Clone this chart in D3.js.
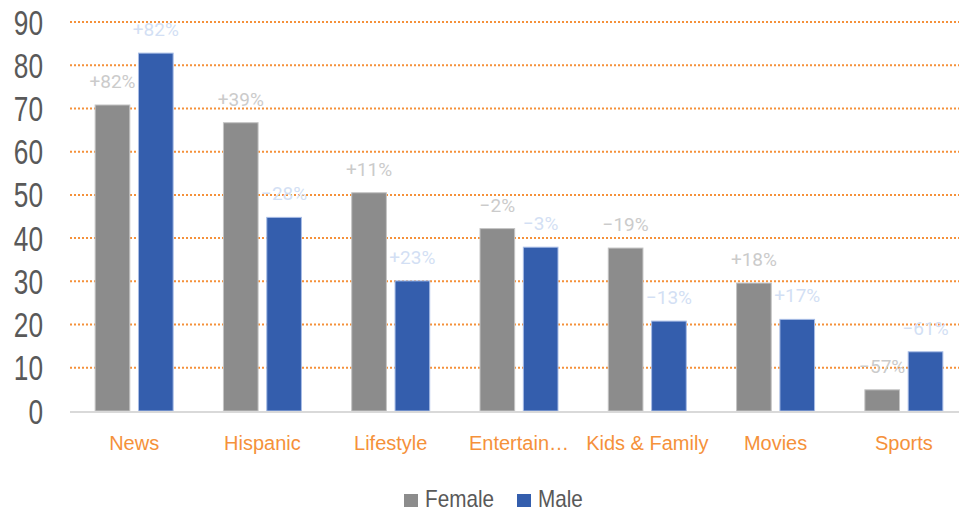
<!DOCTYPE html>
<html>
<head>
<meta charset="utf-8">
<script src="https://cdn.jsdelivr.net/npm/d3@7"></script>
<style>
  body { margin: 0; background: #fff; }
</style>
</head>
<body>
<div id="chart"></div>
<script>
var categories = ["News", "Hispanic", "Lifestyle", "Entertain…", "Kids & Family", "Movies", "Sports"];
var female = [70.8, 66.7, 50.5, 42.2, 37.7, 29.6, 4.9];
var male = [82.8, 44.8, 30.1, 37.9, 20.8, 21.2, 13.7];
var femaleLabels = ["+82%", "+39%", "+11%", "−2%", "−19%", "+18%", "−57%"];
var maleLabels = ["+82%", "−28%", "+23%", "−3%", "−13%", "+17%", "−61%"];
var yTicks = [0, 10, 20, 30, 40, 50, 60, 70, 80, 90];
var seriesNames = ["Female", "Male"];

var colors = { Female: "#8c8c8c", Male: "#345ead" };
var labelColors = { Female: "#cbcbcb", Male: "#d3dff4" };
var strokeColors = { Female: "#c4c4c4", Male: "#a8bde6" };

var width = 959, height = 512;
var margin = {left: 70, right: -9, top: 22, bottom: 101};

var svg = d3.select("#chart").append("svg")
  .attr("width", width)
  .attr("height", height);

var x = d3.scaleBand()
  .domain(categories)
  .range([margin.left, width - margin.right]);

var groupW = 78;
var xInner = d3.scaleBand()
  .domain(seriesNames)
  .range([0, groupW])
  .paddingInner(0.2);

var y = d3.scaleLinear()
  .domain([0, 90])
  .range([height - margin.bottom, margin.top]);

var font = "'Liberation Sans', Arial, sans-serif";

// gridlines
svg.append("g")
  .selectAll("line")
  .data(yTicks.filter(d => d > 0))
  .enter().append("line")
    .attr("x1", margin.left)
    .attr("x2", width)
    .attr("y1", d => y(d))
    .attr("y2", d => y(d))
    .attr("stroke", "#f5913a")
    .attr("stroke-width", 2)
    .attr("stroke-dasharray", "2,2");

// y axis labels (narrow, tall)
svg.append("g")
  .selectAll("text")
  .data(yTicks)
  .enter().append("text")
    .attr("transform", d => `translate(43,${y(d)}) scale(0.75,1)`)
    .attr("dy", "0.36em")
    .attr("text-anchor", "end")
    .style("font-family", font)
    .style("font-size", "35px")
    .attr("fill", "#595959")
    .text(d => d);

var rows = categories.map((c, i) => ({
  cat: c,
  vals: [
    {s: "Female", v: female[i], label: femaleLabels[i]},
    {s: "Male", v: male[i], label: maleLabels[i]}
  ]
}));

var groups = svg.append("g")
  .selectAll("g")
  .data(rows)
  .enter().append("g")
    .attr("transform", d => `translate(${x(d.cat) + (x.bandwidth() - groupW) / 2},0)`);

groups.selectAll("rect")
  .data(d => d.vals)
  .enter().append("rect")
    .attr("x", d => xInner(d.s))
    .attr("width", xInner.bandwidth())
    .attr("y", d => y(d.v))
    .attr("height", d => y(0) - y(d.v))
    .attr("fill", d => colors[d.s])
    .attr("stroke", d => strokeColors[d.s])
    .attr("stroke-width", 1);

groups.selectAll("text")
  .data(d => d.vals)
  .enter().append("text")
    .attr("x", d => xInner(d.s) + xInner.bandwidth() / 2)
    .attr("y", d => y(d.v) - 17)
    .attr("text-anchor", "middle")
    .style("font-family", "Roboto, sans-serif")
    .style("font-weight", "400")
    .style("font-size", "19px")
    .attr("fill", d => labelColors[d.s])
    .text(d => d.label);

// baseline
svg.append("line")
  .attr("x1", margin.left)
  .attr("x2", width)
  .attr("y1", y(0) + 1)
  .attr("y2", y(0) + 1)
  .attr("stroke", "#d9d9d9")
  .attr("stroke-width", 2);

// category labels
svg.append("g")
  .selectAll("text")
  .data(categories)
  .enter().append("text")
    .attr("x", d => x(d) + x.bandwidth() / 2)
    .attr("y", 450)
    .attr("text-anchor", "middle")
    .style("font-family", font)
    .style("font-size", "20px")
    .attr("fill", "#f5913a")
    .text(d => d);

// legend
var legend = svg.append("g");
var legendX = [404, 517];
seriesNames.forEach((s, i) => {
  legend.append("rect")
    .attr("x", legendX[i])
    .attr("y", 494)
    .attr("width", 14)
    .attr("height", 13)
    .attr("fill", colors[s]);
  legend.append("text")
    .attr("transform", `translate(${legendX[i] + 21},507) scale(0.9,1)`)
    .style("font-family", font)
    .style("font-size", "23px")
    .attr("fill", "#595959")
    .text(s);
});
</script>
</body>
</html>
